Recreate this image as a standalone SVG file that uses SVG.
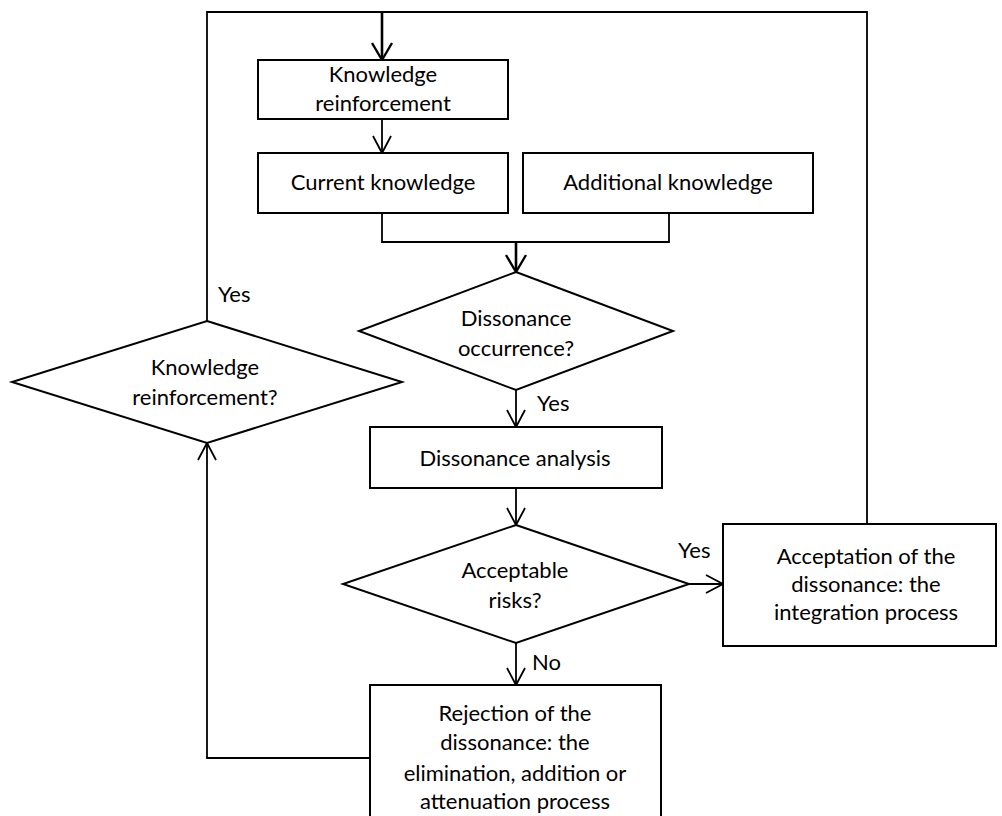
<svg xmlns="http://www.w3.org/2000/svg" width="1002" height="816" viewBox="0 0 1002 816">
<style>
  .box { fill: #ffffff; stroke: #000000; stroke-width: 2; }
  .con { fill: none; stroke: #000000; stroke-width: 1.8; }
  .thick { stroke-width: 2.6; }
  text { font-family: Lato, "Liberation Sans", sans-serif; font-size: 22px; fill: #000000; text-anchor: middle; }
  .lbl { text-anchor: start; }
</style>
<defs>
  <marker id="arr" markerUnits="userSpaceOnUse" markerWidth="24" markerHeight="24" viewBox="-20 -12 24 24" refX="0" refY="0" orient="auto">
    <path d="M-17,-9 L0,0 L-17,9" fill="none" stroke="#000000" stroke-width="1.8"/>
  </marker>
  <marker id="arrT" markerUnits="userSpaceOnUse" markerWidth="24" markerHeight="24" viewBox="-20 -12 24 24" refX="0" refY="0" orient="auto">
    <path d="M-17,-10 L0,0 L-17,10" fill="none" stroke="#000000" stroke-width="2.4"/>
  </marker>
</defs>
<rect width="1002" height="816" fill="#ffffff"/>
<g id="connectors">
  <polyline class="con" points="207,321 207,12 867,12 867,524"/>
  <line class="con thick" x1="382" y1="12" x2="382" y2="60" marker-end="url(#arrT)"/>
  <line class="con" x1="382" y1="119" x2="382" y2="153" marker-end="url(#arr)"/>
  <polyline class="con" points="382,213 382,242 669,242 669,213"/>
  <line class="con thick" x1="516" y1="242" x2="516" y2="272" marker-end="url(#arrT)"/>
  <line class="con" x1="516" y1="390" x2="516" y2="427" marker-end="url(#arr)"/>
  <line class="con" x1="516" y1="488" x2="516" y2="525" marker-end="url(#arr)"/>
  <line class="con" x1="689" y1="584" x2="723" y2="584" marker-end="url(#arr)"/>
  <line class="con" x1="516" y1="643" x2="516" y2="685" marker-end="url(#arr)"/>
  <polyline class="con" points="370,758 207,758 207,443" marker-end="url(#arr)"/>
  <text class="lbl" x="218" y="302">Yes</text>
  <text class="lbl" x="537" y="411">Yes</text>
  <text class="lbl" x="678" y="558">Yes</text>
  <text class="lbl" x="532" y="670">No</text>
</g>
<g id="n-knowledge-reinforcement">
  <rect class="box" x="258" y="60" width="250" height="59"/>
  <text x="383" y="82">Knowledge</text>
  <text x="383" y="111">reinforcement</text>
</g>
<g id="n-current-knowledge">
  <rect class="box" x="258" y="153" width="250" height="60"/>
  <text x="383" y="190">Current knowledge</text>
</g>
<g id="n-additional-knowledge">
  <rect class="box" x="523" y="153" width="290" height="60"/>
  <text x="668" y="190">Additional knowledge</text>
</g>
<g id="n-dissonance-occurrence">
  <polygon class="box" points="516,272 673,331 516,390 359,331"/>
  <text x="516" y="326">Dissonance</text>
  <text x="516" y="356">occurrence?</text>
</g>
<g id="n-knowledge-reinforcement-q">
  <polygon class="box" points="207,321 402,382 207,443 12,382"/>
  <text x="205" y="375">Knowledge</text>
  <text x="205" y="405">reinforcement?</text>
</g>
<g id="n-dissonance-analysis">
  <rect class="box" x="370" y="427" width="292" height="61"/>
  <text x="515" y="466">Dissonance analysis</text>
</g>
<g id="n-acceptable-risks">
  <polygon class="box" points="516,525 689,584 516,643 343,584"/>
  <text x="515" y="578">Acceptable</text>
  <text x="515" y="608">risks?</text>
</g>
<g id="n-acceptation">
  <rect class="box" x="723" y="524" width="273" height="122"/>
  <text x="866" y="564">Acceptation of the</text>
  <text x="866" y="592">dissonance: the</text>
  <text x="866" y="620">integration process</text>
</g>
<g id="n-rejection">
  <rect class="box" x="370" y="685" width="291" height="140"/>
  <text x="515" y="721">Rejection of the</text>
  <text x="515" y="750">dissonance: the</text>
  <text x="515" y="781">elimination, addition or</text>
  <text x="515" y="809">attenuation process</text>
</g>
</svg>
